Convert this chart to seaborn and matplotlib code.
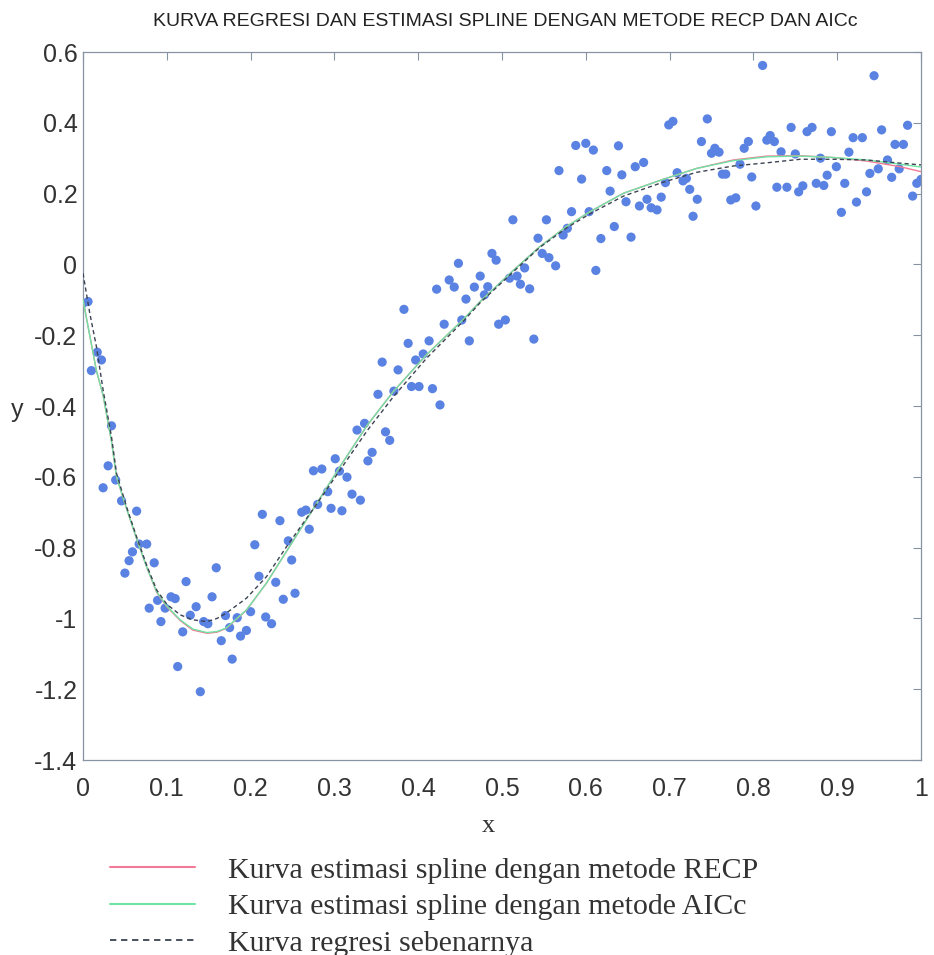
import matplotlib
matplotlib.use("Agg")
import matplotlib.pyplot as plt
import seaborn as sns
import pandas as pd
from matplotlib.lines import Line2D

x_obs = [0.000, 0.006, 0.010, 0.017, 0.022, 0.024, 0.030, 0.034, 0.039, 0.046,
         0.050, 0.055, 0.059, 0.064, 0.067, 0.076, 0.079, 0.085, 0.089, 0.093,
         0.098, 0.105, 0.110, 0.113, 0.119, 0.123, 0.128, 0.135, 0.140, 0.144,
         0.149, 0.154, 0.159, 0.165, 0.170, 0.175, 0.178, 0.184, 0.188, 0.195,
         0.200, 0.205, 0.210, 0.214, 0.218, 0.225, 0.230, 0.235, 0.239, 0.245,
         0.249, 0.253, 0.261, 0.266, 0.270, 0.275, 0.280, 0.285, 0.292, 0.296,
         0.301, 0.306, 0.309, 0.315, 0.321, 0.327, 0.331, 0.336, 0.340, 0.345,
         0.352, 0.357, 0.361, 0.366, 0.371, 0.376, 0.383, 0.388, 0.392, 0.397,
         0.401, 0.406, 0.413, 0.417, 0.422, 0.426, 0.431, 0.437, 0.443, 0.448,
         0.452, 0.457, 0.461, 0.467, 0.474, 0.479, 0.483, 0.488, 0.493, 0.496,
         0.504, 0.509, 0.513, 0.518, 0.522, 0.527, 0.533, 0.538, 0.543, 0.548,
         0.553, 0.556, 0.564, 0.568, 0.573, 0.578, 0.583, 0.588, 0.595, 0.600,
         0.604, 0.609, 0.612, 0.618, 0.625, 0.629, 0.634, 0.639, 0.643, 0.648,
         0.654, 0.659, 0.664, 0.669, 0.673, 0.678, 0.685, 0.690, 0.695, 0.699,
         0.704, 0.709, 0.716, 0.720, 0.724, 0.728, 0.733, 0.738, 0.745, 0.750,
         0.754, 0.759, 0.763, 0.767, 0.773, 0.779, 0.784, 0.789, 0.794, 0.798,
         0.803, 0.811, 0.816, 0.820, 0.825, 0.828, 0.833, 0.840, 0.845, 0.850,
         0.854, 0.859, 0.864, 0.870, 0.875, 0.880, 0.884, 0.888, 0.893, 0.899,
         0.905, 0.909, 0.914, 0.919, 0.923, 0.930, 0.935, 0.939, 0.944, 0.949,
         0.953, 0.960, 0.965, 0.969, 0.974, 0.979, 0.984, 0.990, 0.995, 1.000]
y_obs = [-0.110, -0.105, -0.300, -0.248, -0.270, -0.631, -0.569, -0.456, -0.609, -0.668,
         -0.872, -0.837, -0.812, -0.697, -0.790, -0.790, -0.971, -0.843, -0.949, -1.009,
         -0.971, -0.939, -0.944, -1.136, -1.038, -0.896, -0.991, -0.967, -1.207, -1.009,
         -1.015, -0.939, -0.857, -1.063, -0.992, -1.026, -1.115, -0.998, -1.050, -1.034,
         -0.981, -0.792, -0.881, -0.706, -0.996, -1.015, -0.898, -0.724, -0.946, -0.781,
         -0.835, -0.929, -0.700, -0.694, -0.748, -0.583, -0.678, -0.578, -0.642, -0.689,
         -0.549, -0.584, -0.696, -0.601, -0.649, -0.468, -0.666, -0.449, -0.555, -0.531,
         -0.367, -0.276, -0.473, -0.497, -0.358, -0.298, -0.127, -0.223, -0.345, -0.270,
         -0.345, -0.253, -0.216, -0.351, -0.070, -0.397, -0.169, -0.044, -0.064, 0.003,
         -0.157, -0.098, -0.216, -0.064, -0.033, -0.086, -0.063, 0.031, 0.012, -0.169,
         -0.157, -0.039, 0.126, -0.033, -0.056, -0.010, -0.069, -0.211, 0.074, 0.031,
         0.126, 0.019, -0.004, 0.265, 0.083, 0.102, 0.149, 0.336, 0.241, 0.342,
         0.149, 0.323, -0.017, 0.073, 0.265, 0.207, 0.107, 0.335, 0.253, 0.177,
         0.077, 0.276, 0.165, 0.288, 0.184, 0.160, 0.154, 0.190, 0.231, 0.394,
         0.404, 0.259, 0.236, 0.243, 0.212, 0.136, 0.184, 0.347, 0.411, 0.314,
         0.328, 0.317, 0.255, 0.255, 0.182, 0.188, 0.283, 0.328, 0.347, 0.247,
         0.165, 0.562, 0.351, 0.364, 0.347, 0.218, 0.318, 0.218, 0.387, 0.312,
         0.205, 0.222, 0.375, 0.387, 0.229, 0.300, 0.223, 0.252, 0.375, 0.276,
         0.147, 0.229, 0.317, 0.358, 0.176, 0.358, 0.205, 0.257, 0.533, 0.270,
         0.380, 0.295, 0.246, 0.339, 0.270, 0.339, 0.393, 0.193, 0.229, 0.240]

# ---- curves ----
x_curve = [0, 0.008, 0.016, 0.024, 0.034, 0.04, 0.052, 0.064, 0.076, 0.088,
           0.1, 0.116, 0.131, 0.148, 0.16, 0.171, 0.195, 0.219, 0.243, 0.275,
           0.307, 0.339, 0.37, 0.41, 0.454, 0.474, 0.513, 0.545, 0.577, 0.605,
           0.645, 0.692, 0.732, 0.776, 0.816, 0.856, 0.895, 0.935, 0.975, 1.0]
y_true = [-0.025, -0.137, -0.232, -0.355, -0.487, -0.59, -0.685, -0.77, -0.85, -0.92,
          -0.96, -0.99, -1.004, -1.009, -1.0, -0.985, -0.943, -0.882, -0.797, -0.69,
          -0.58, -0.47, -0.375, -0.265, -0.16, -0.108, -0.022, 0.048, 0.103, 0.143,
          0.193, 0.232, 0.26, 0.278, 0.287, 0.297, 0.297, 0.295, 0.286, 0.281]
y_aicc = [-0.10, -0.20, -0.30, -0.37, -0.50, -0.60, -0.69, -0.775, -0.855, -0.925,
          -0.965, -1.004, -1.03, -1.04, -1.037, -1.027, -0.976, -0.90, -0.81, -0.69,
          -0.57, -0.455, -0.36, -0.255, -0.155, -0.105, -0.018, 0.05, 0.107, 0.149,
          0.201, 0.24, 0.271, 0.293, 0.304, 0.306, 0.302, 0.295, 0.283, 0.275]
y_recp = [-0.10, -0.20, -0.30, -0.37, -0.50, -0.60, -0.69, -0.775, -0.855, -0.927,
          -0.967, -1.006, -1.033, -1.042, -1.039, -1.028, -0.977, -0.90, -0.81, -0.69,
          -0.57, -0.455, -0.36, -0.255, -0.155, -0.105, -0.018, 0.05, 0.107, 0.149,
          0.201, 0.24, 0.271, 0.295, 0.306, 0.307, 0.302, 0.292, 0.276, 0.262]

title = "KURVA REGRESI DAN ESTIMASI SPLINE DENGAN METODE RECP DAN AICc"
legend_labels = ["Kurva estimasi spline dengan metode RECP",
                 "Kurva estimasi spline dengan metode AICc",
                 "Kurva regresi sebenarnya"]
x_ticks = [0, 0.1, 0.2, 0.3, 0.4, 0.5, 0.6, 0.7, 0.8, 0.9, 1]
x_ticklabels = ["0", "0.1", "0.2", "0.3", "0.4", "0.5", "0.6", "0.7", "0.8", "0.9", "1"]
y_ticks = [0.6, 0.4, 0.2, 0, -0.2, -0.4, -0.6, -0.8, -1, -1.2, -1.4]
y_ticklabels = ["0.6", "0.4", "0.2", "0", "-0.2", "-0.4", "-0.6", "-0.8", "-1", "-1.2", "-1.4"]

sns.set_style("white")
plt.rcParams["font.family"] = ["Liberation Sans", "DejaVu Sans"]

obs = pd.DataFrame({"x": x_obs, "y": y_obs})
curves = pd.DataFrame({"x": x_curve, "true": y_true, "recp": y_recp, "aicc": y_aicc})

C_RECP = "#f27a96"
C_AICC = "#6fe3a4"
C_TRUE = "#3c4352"
C_DOT = "#5a82e2"
C_SPINE = "#8793a2"

fig = plt.figure(figsize=(9.34, 9.55), dpi=100)
ax = fig.add_axes([83 / 934, 1 - 760 / 955, (921 - 83) / 934, (760 - 52) / 955])

sns.scatterplot(data=obs, x="x", y="y", ax=ax, color=C_DOT, s=44,
                edgecolor="none", linewidth=0, zorder=2)
sns.lineplot(data=curves, x="x", y="recp", ax=ax, color=C_RECP, lw=1.0, zorder=3)
sns.lineplot(data=curves, x="x", y="aicc", ax=ax, color=C_AICC, lw=1.0, zorder=3)
sns.lineplot(data=curves, x="x", y="true", ax=ax, color=C_TRUE, lw=1.0, zorder=4)
ax.lines[-1].set_dashes([3, 2.2])

ax.set_xlim(0, 1)
ax.set_ylim(-1.4, 0.6)
ax.set_xticks(x_ticks)
ax.set_xticklabels(x_ticklabels)
ax.set_yticks(y_ticks)
ax.set_yticklabels(y_ticklabels)
ax.set_xlabel("")
ax.set_ylabel("")
ax.tick_params(direction="in", length=6, width=0.8, color=C_SPINE,
               labelsize=18, labelcolor="#333333", top=True, right=True)
ax.tick_params(axis="x", pad=12)
ax.tick_params(axis="y", pad=4)
for s in ax.spines.values():
    s.set_visible(True)
    s.set_color(C_SPINE)
    s.set_linewidth(0.9)

fig.text(505 / 934, 1 - 21 / 955, title, ha="center", va="center",
         fontsize=14, color="#222222")
fig.text(17 / 934, 1 - 410 / 955, "y", ha="center", va="center",
         fontsize=18, color="#333333")
fig.text(488 / 934, 1 - 826 / 955, "x", ha="center", va="center",
         fontsize=19, color="#333333", family=["Liberation Serif", "DejaVu Serif"])

handles = [Line2D([], [], color=C_RECP, lw=1.5),
           Line2D([], [], color=C_AICC, lw=1.5),
           Line2D([], [], color=C_TRUE, lw=1.3, dashes=(3.5, 2.6))]
fig.legend(handles, legend_labels, loc="upper left",
           bbox_to_anchor=(110 / 934, 1 - 857 / 955), frameon=False,
           prop={"family": ["Liberation Serif", "DejaVu Serif"], "size": 21.5},
           handlelength=2.85, handletextpad=1.1, labelspacing=0.32,
           borderpad=0, borderaxespad=0, labelcolor="#333333")

fig.savefig("out.png", dpi=100, facecolor="white")
